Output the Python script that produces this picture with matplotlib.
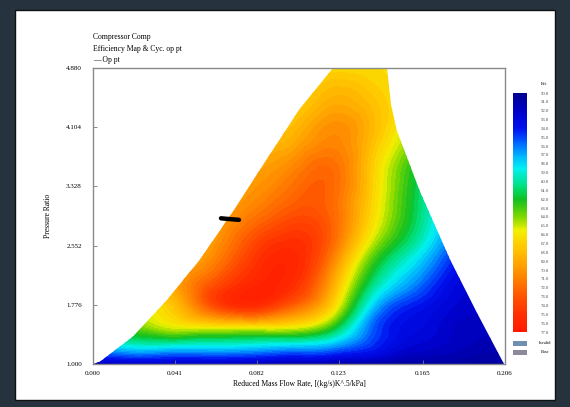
import numpy as np
import matplotlib
matplotlib.use("Agg")
import matplotlib.pyplot as plt
import matplotlib.tri as mtri
from matplotlib.colors import LinearSegmentedColormap, Normalize
from matplotlib.cm import ScalarMappable
from matplotlib.patches import Polygon, Rectangle

# ---- data ----
mass_flow = [0.000, 0.020, 0.040, 0.060, 0.080, 0.100, 0.120, 0.140, 0.160, 0.180, 0.200, 0.210]
pressure_ratio = [1.00, 1.25, 1.50, 1.75, 2.00, 2.50, 3.00, 3.50, 4.00, 4.50, 4.90]
efficiency = [
    [51.5, 52.0, 52.0, 51.8, 51.5, 51.3, 51.0, 50.8, 50.6, 50.5, 50.4, 50.4],
    [57.5, 59.0, 59.0, 58.8, 58.5, 58.0, 57.0, 54.5, 52.5, 51.8, 51.3, 51.3],
    [62.0, 63.5, 65.5, 66.2, 66.5, 66.0, 62.5, 55.5, 53.2, 52.0, 51.8, 51.6],
    [63.5, 65.0, 67.5, 73.0, 75.0, 72.0, 66.5, 57.5, 54.0, 52.5, 52.2, 52.0],
    [65.0, 66.2, 69.0, 73.5, 76.0, 75.0, 68.5, 60.0, 56.0, 53.0, 52.5, 52.3],
    [66.2, 66.7, 67.6, 70.0, 74.0, 75.5, 71.5, 64.0, 59.5, 55.0, 53.0, 52.8],
    [66.2, 66.7, 67.6, 69.0, 71.0, 73.0, 72.0, 66.5, 61.5, 56.5, 54.0, 53.5],
    [66.2, 66.7, 67.6, 68.4, 69.4, 71.0, 72.0, 67.0, 62.0, 57.5, 55.5, 55.0],
    [66.2, 66.7, 67.0, 67.5, 68.0, 68.5, 70.5, 68.0, 64.0, 60.0, 58.0, 57.0],
    [66.0, 66.2, 66.4, 66.4, 66.4, 66.5, 68.5, 67.5, 65.5, 62.0, 60.0, 59.0],
    [66.0, 66.0, 66.0, 66.0, 66.0, 66.2, 66.5, 66.5, 66.0, 63.0, 61.0, 60.0],
]
surge_x = [0.000, 0.0035, 0.020, 0.037, 0.0535, 0.070, 0.087, 0.1035, 0.120]
surge_y = [1.00, 1.03, 1.36, 1.84, 2.37, 3.00, 3.69, 4.35, 4.88]
choke_x = [0.147, 0.149, 0.152, 0.1635, 0.1785, 0.192, 0.2055]
choke_y = [4.88, 4.40, 4.05, 3.26, 2.37, 1.67, 1.00]
op_x = [0.064, 0.068, 0.073]
op_y = [2.91, 2.90, 2.89]
x_ticks = [0.000, 0.041, 0.082, 0.123, 0.165, 0.206]
x_ticklabels = ["0.000", "0.041", "0.082", "0.123", "0.165", "0.206"]
y_ticks = [1.000, 1.776, 2.552, 3.328, 4.104, 4.880]
y_ticklabels = ["1.000", "1.776", "2.552", "3.328", "4.104", "4.880"]
eff_levels = np.arange(50.0, 78.0, 1.0)

# ---- figure ----
W, H = 570, 407
plt.rcParams["font.family"] = ["Liberation Serif", "DejaVu Serif"]
fig = plt.figure(figsize=(W / 100, H / 100), dpi=100, facecolor="#26333f")

def fx(px):
    return px / W

def fy(py):
    return 1 - py / H

# white panel
panel = Rectangle((fx(15), fy(400)), fx(540), 390 / H, transform=fig.transFigure,
                  facecolor="white", edgecolor="#111111", lw=1.0, zorder=-10)
fig.patches.append(panel)

ax = fig.add_axes([fx(93), fy(364), fx(412), 296 / H])
ax.set_facecolor("white")

anchors = [(50, "#000090"), (52, "#0000c8"), (54, "#0010f0"), (55.5, "#0060ff"),
           (57, "#00b0ff"), (58.5, "#00f0f0"), (60.5, "#00e080"), (62, "#10c020"),
           (64, "#80d800"), (65.5, "#f0f000"), (67, "#ffd000"), (69, "#ffaa00"),
           (71, "#ff8000"), (73, "#ff5400"), (75, "#ff3000"), (77, "#ff1800")]
cmap = LinearSegmentedColormap.from_list(
    "effmap", [((v - 50) / 27.0, c) for v, c in anchors])
norm = Normalize(vmin=50, vmax=77)

X, Y = np.meshgrid(mass_flow, pressure_ratio)
Z = np.array(efficiency)
tri = mtri.Triangulation(X.ravel(), Y.ravel())
refiner = mtri.UniformTriRefiner(tri)
tri_f, z_f = refiner.refine_field(Z.ravel(), subdiv=4)
cs = ax.tricontourf(tri_f, z_f, levels=np.arange(50.0, 77.5, 0.5), cmap=cmap,
                    norm=norm, extend="both")

poly_pts = list(zip(surge_x, surge_y)) + list(zip(choke_x, choke_y))
poly = Polygon(poly_pts, closed=True, transform=ax.transData, facecolor="none", edgecolor="none")
ax.add_patch(poly)
cs.set_clip_path(poly)

ax.plot(op_x, op_y, color="black", lw=3.2, solid_capstyle="round", zorder=5)

ax.set_xlim(0.0, 0.206)
ax.set_ylim(1.0, 4.88)
ax.set_xticks(x_ticks)
ax.set_xticklabels(x_ticklabels)
ax.set_yticks(y_ticks)
ax.set_yticklabels(y_ticklabels)
ax.tick_params(direction="in", length=3, width=0.6, labelsize=5, color="#777777")
ax.tick_params(axis="x", pad=5)
ax.tick_params(axis="y", pad=8)
for s in ax.spines.values():
    s.set_color("#8a8a8a")
    s.set_linewidth(1.0)
ax.set_xlabel("Reduced Mass Flow Rate, [(kg/s)K^.5/kPa]", fontsize=5.5, labelpad=3)
ax.set_ylabel("Pressure Ratio", fontsize=5.5, labelpad=10)

# header text
fig.text(fx(93), fy(37), "Compressor Comp", fontsize=5.5, va="center", ha="left")
fig.text(fx(93), fy(49), "Efficiency Map & Cyc. op pt", fontsize=5.5, va="center", ha="left")
fig.text(fx(93), fy(60), "\u2014 Op pt", fontsize=5.5, va="center", ha="left")

# colorbar (continuous)
cax = fig.add_axes([fx(513), fy(332), fx(14), 239 / H])
sm = ScalarMappable(norm=norm, cmap=cmap)
cb = fig.colorbar(sm, cax=cax, ticks=eff_levels)
cb.ax.invert_yaxis()
cb.ax.tick_params(labelsize=3.4, length=0, pad=10, labelcolor="#444444")
cb.set_ticklabels(["%.1f" % v for v in eff_levels])
cb.outline.set_visible(False)
fig.text(fx(545), fy(84), "Eff.", fontsize=3.5, ha="center", va="center")
fig.patches.append(Rectangle((fx(513), fy(346)), fx(14), 5 / H, transform=fig.transFigure,
                             facecolor="#6f8fb0", edgecolor="none"))
fig.patches.append(Rectangle((fx(513), fy(355)), fx(14), 5 / H, transform=fig.transFigure,
                             facecolor="#8a8a9a", edgecolor="none"))
fig.text(fx(545), fy(343), "Invalid", fontsize=3.2, ha="center", va="center")
fig.text(fx(545), fy(352), "Base", fontsize=3.2, ha="center", va="center")

fig.savefig("out.png", dpi=100, facecolor=fig.get_facecolor())
